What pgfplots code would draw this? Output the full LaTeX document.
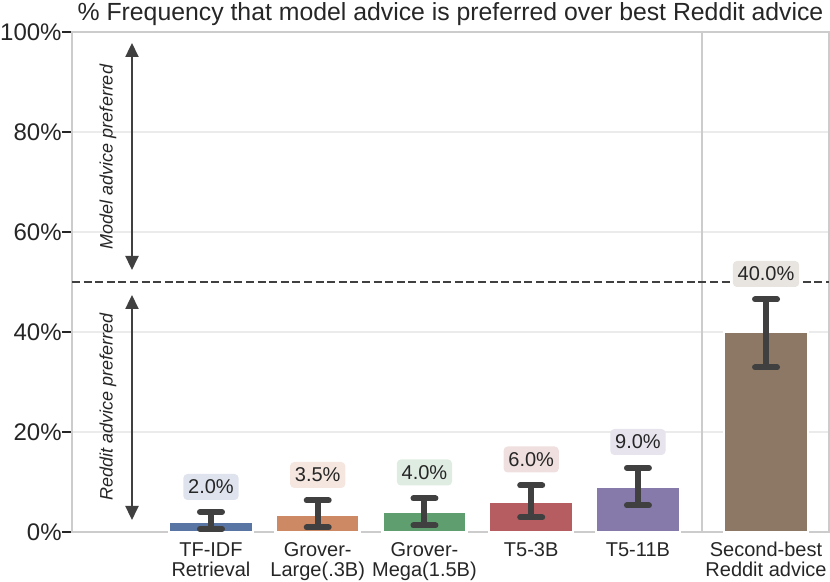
\documentclass[border=0pt]{standalone}
\usepackage{pgfplots}
\pgfplotsset{compat=1.18}
\usepackage{fontspec}
\setmainfont{Liberation Sans}
\usetikzlibrary{arrows.meta,calc}
\definecolor{cblue}{HTML}{5875A4}
\definecolor{corange}{HTML}{CC8963}
\definecolor{cgreen}{HTML}{5F9E6E}
\definecolor{cred}{HTML}{B55D60}
\definecolor{cpurple}{HTML}{857AAA}
\definecolor{cbrown}{HTML}{8D7866}
\definecolor{txt}{HTML}{262626}
\definecolor{spine}{HTML}{CCCCCC}
\definecolor{gridc}{HTML}{EBEBEB}
\definecolor{ebar}{HTML}{404040}
\definecolor{dline}{HTML}{404040}
\pgfplotsset{
  mybar/.style={ybar, bar width=42pt, bar shift=0pt, draw=white, line width=1.25pt,
    error bars/y dir=both, error bars/y explicit,
    error bars/error mark=|,
    error bars/error bar style={ebar, line width=3pt},
    error bars/error mark options={ebar, line width=3pt, mark size=5.5pt, line cap=round}},
}
\tikzset{
  vlab/.style={text=txt, font=\fontsize{10}{12}\selectfont, rounded corners=2pt,
    inner xsep=2.4pt, inner ysep=2.8pt, text height=7.2pt, text depth=0.2pt},
}
\begin{document}
\begin{tikzpicture}
\begin{axis}[
  scale only axis, width=378.5pt, height=250pt,
  xmin=-0.302, xmax=6.79, ymin=0, ymax=100,
  ytick={0,20,40,60,80,100},
  yticklabels={0\%,20\%,40\%,60\%,80\%,100\%},
  xtick={1,2,3,4,5,6.2},
  xticklabels={TF-IDF\\Retrieval, Grover-\\Large(.3B), Grover-\\Mega(1.5B), T5-3B, T5-11B, Second-best\\Reddit advice},
  ymajorgrids, grid style={gridc, line width=1pt},
  axis line style={spine, line width=1.2pt},
  tick align=outside, major tick length=5pt,
  ytick pos=left,
  ytick style={txt, line width=1pt},
  xtick style={draw=none},
  yticklabel style={font=\fontsize{12}{14}\selectfont, text=txt, inner sep=0pt, anchor=east},
  xticklabel style={font=\fontsize{10}{10}\selectfont, text=txt, align=center, anchor=north, inner sep=0pt},
  clip=false,
]
\addplot[spine, line width=1pt] coordinates {(5.6,0) (5.6,100)};

\addplot[mybar, fill=cblue]   coordinates {(1,2.0) += (0,2.0) -= (0,1.4)};
\addplot[mybar, fill=corange] coordinates {(2,3.5) += (0,2.8) -= (0,2.6)};
\addplot[mybar, fill=cgreen]  coordinates {(3,4.0) += (0,2.7) -= (0,2.7)};
\addplot[mybar, fill=cred]    coordinates {(4,6.0) += (0,3.3) -= (0,3.1)};
\addplot[mybar, fill=cpurple] coordinates {(5,9.0) += (0,3.8) -= (0,3.7)};
\addplot[mybar, fill=cbrown]  coordinates {(6.2,40.0) += (0,6.5) -= (0,7.1)};

\addplot[dline, line width=1.3pt, dash pattern=on 4pt off 1.8pt] coordinates {(-0.302,50) (6.79,50)};

\addplot[dline, line width=1.1pt, arrows={Triangle[length=7pt,width=6.5pt]-Triangle[length=7pt,width=6.5pt]}] coordinates {(0.26,52.4) (0.26,97.8)};
\addplot[dline, line width=1.1pt, arrows={Triangle[length=7pt,width=6.5pt]-Triangle[length=7pt,width=6.5pt]}] coordinates {(0.26,2.4) (0.26,47.4)};

\node[rotate=90, text=txt, font=\itshape\fontsize{9}{11}\selectfont] at (axis cs:0.035,75) {Model advice preferred};
\node[rotate=90, text=txt, font=\itshape\fontsize{9}{11}\selectfont] at (axis cs:0.035,25) {Reddit advice preferred};

\node[vlab, fill=cblue!20]   at (axis cs:1,9.0)   {2.0\%};
\node[vlab, fill=corange!20] at (axis cs:2,11.4)  {3.5\%};
\node[vlab, fill=cgreen!20]  at (axis cs:3,11.9)  {4.0\%};
\node[vlab, fill=cred!20]    at (axis cs:4,14.5)  {6.0\%};
\node[vlab, fill=cpurple!20] at (axis cs:5,18.0)  {9.0\%};
\node[vlab, fill=cbrown!20]  at (axis cs:6.2,51.6) {40.0\%};
\end{axis}
\node[anchor=base, text=txt, font=\fontsize{12.4}{14}\selectfont] at ($(current axis.north)+(0,5.5pt)$) {\% Frequency that model advice is preferred over best Reddit advice};
\pgfresetboundingbox
\path[use as bounding box] ($(current axis.south west)+(-36pt,-25pt)$) rectangle ($(current axis.north east)+(0.5pt,16pt)$);
\end{tikzpicture}
\end{document}
